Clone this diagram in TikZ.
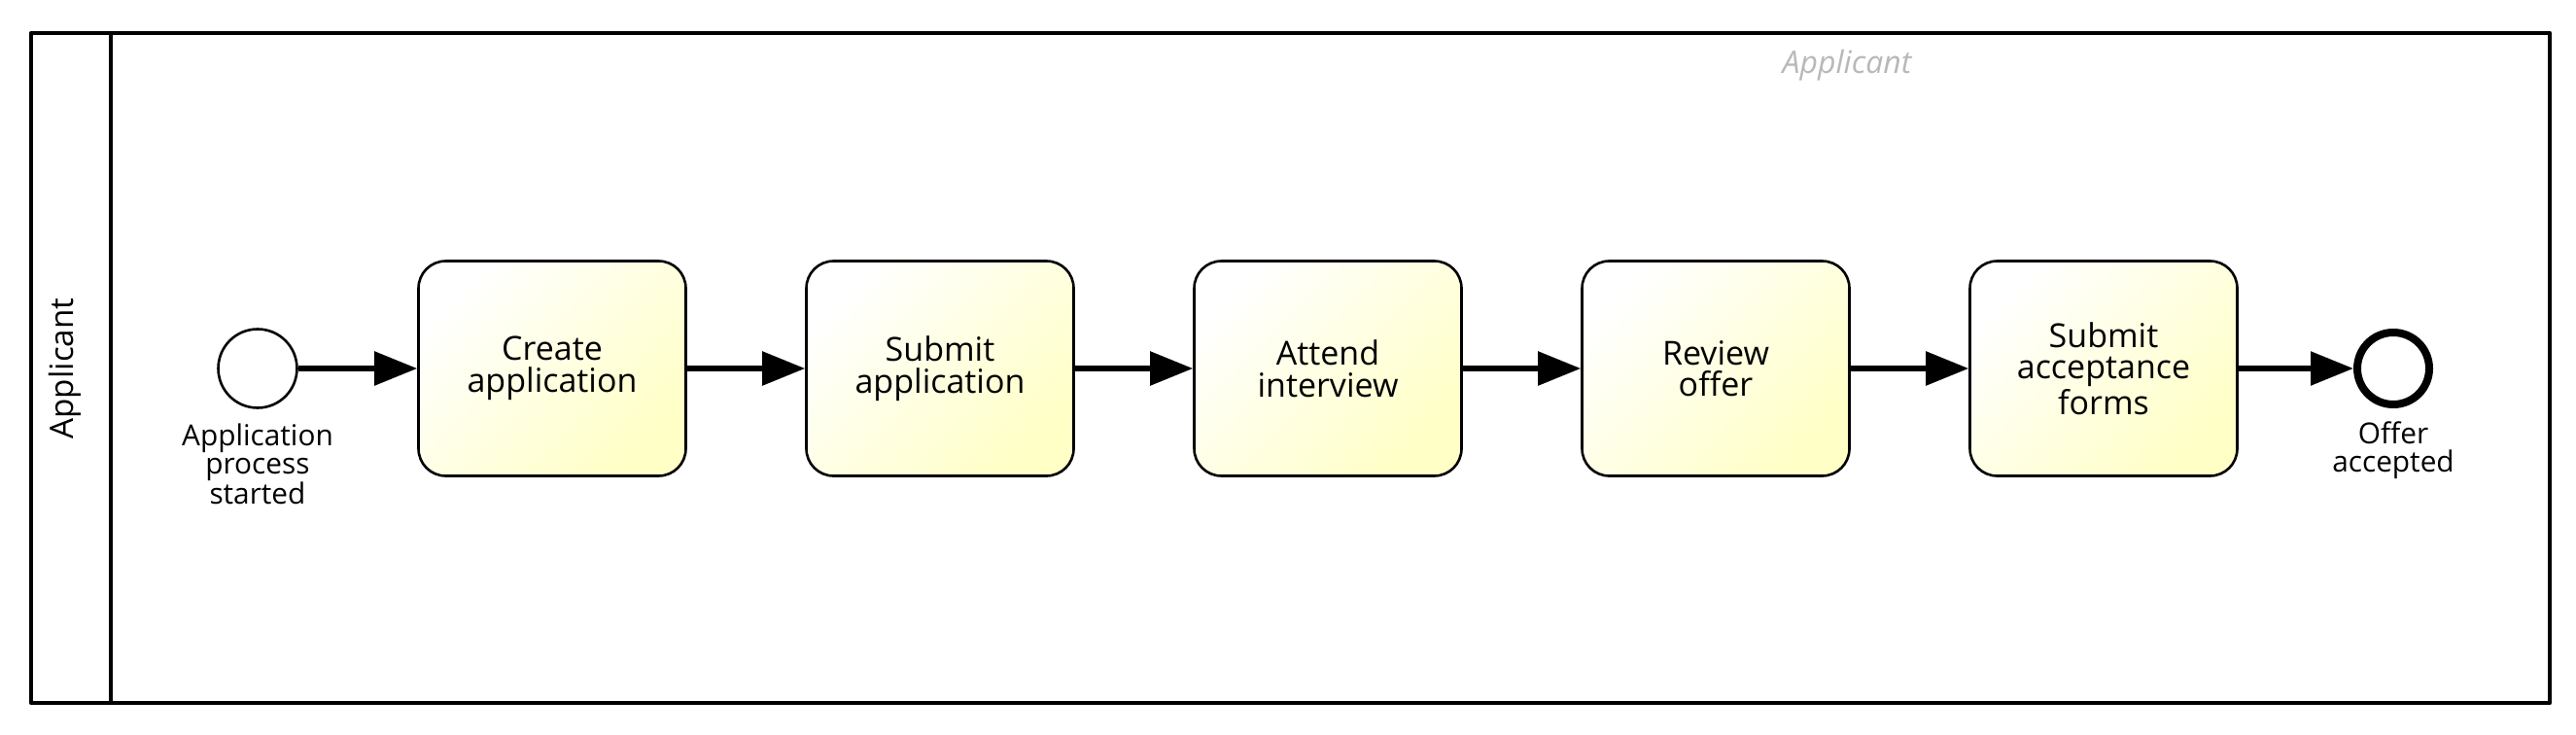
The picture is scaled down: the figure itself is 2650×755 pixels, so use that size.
\documentclass[tikz,border=0pt]{standalone}
\usepackage{fontspec}
\setmainfont{Open Sans}
\usetikzlibrary{arrows.meta}
\definecolor{taskyellow}{HTML}{FFFFC6}
\definecolor{poolgray}{HTML}{B8B8B8}
\begin{document}
\begin{tikzpicture}[x=0.5pt,y=-0.5pt,line join=round,
	task/.style={draw,line width=1.3pt,rounded corners=14pt,minimum width=137.5pt,minimum height=110.5pt,inner sep=0pt,align=center,top color=white,bottom color=taskyellow,shading angle=45,font=\fontsize{17}{16.3}\selectfont},
	event/.style={draw,circle,fill=white,line width=1.3pt,minimum size=40.5pt,inner sep=0pt},
	endevent/.style={event,line width=4pt,minimum size=37pt},
	flow/.style={line width=2.8pt,-{Triangle[length=22pt,width=17pt]}},
	lbl/.style={align=center,anchor=north,inner sep=0pt,font=\fontsize{14.9}{14.5}\selectfont}]
	%pool and lane
	\useasboundingbox (0,0) rectangle (2650,755);
	\draw[line width=2.3pt](32,34)rectangle(2623,723);
	\draw[line width=1.6pt](114,34)--(114,723);
	\node[rotate=90,font=\fontsize{16.6}{16.6}\selectfont] (lane) at (67,379) {Applicant};
	\node[anchor=base,text=poolgray,font=\fontsize{16}{16}\selectfont\itshape] (pool) at (1900,75) {Applicant};
	%events
	\node[event] (start) at (265,379) {};
	\node[endevent] (end) at (2462,379) {};
	\node[lbl] (startlbl) at (265,435) {Application\\process\\started};
	\node[lbl] (endlbl) at (2462,433) {Offer\\accepted};
	%tasks
	\foreach \n/\x/\t in {t1/568/{Create\\application},t2/967/{Submit\\application},t3/1366/{Attend\\interview},t4/1765/{Review\\offer},t5/2164/{Submit\\acceptance\\forms}}
	\node[task] (\n) at (\x,379) {\t};
	\foreach \a/\b in {start/t1,t1/t2,t2/t3,t3/t4,t4/t5,t5/end}
	\draw[flow](\a)--(\b);
\end{tikzpicture}
\end{document}
